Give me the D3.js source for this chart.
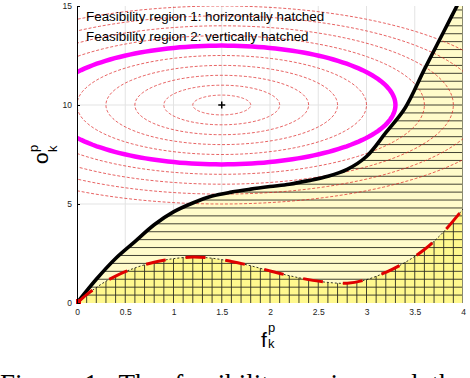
<!DOCTYPE html>
<html><head><meta charset="utf-8">
<script src="https://cdn.jsdelivr.net/npm/d3@7/dist/d3.min.js"></script>
<style>
html,body{margin:0;padding:0;background:#fff;overflow:hidden;}
svg{display:block;}
</style></head>
<body>
<script>
// ---- data ----
const xTickValues = [0, 0.5, 1, 1.5, 2, 2.5, 3, 3.5, 4];
const xTickLabels = ["0", "0.5", "1", "1.5", "2", "2.5", "3", "3.5", "4"];
const yTickValues = [0, 5, 10, 15];
const yTickLabels = ["0", "5", "10", "15"];

// upper boundary (black thick curve)
const upperF = [0, 0.2, 0.4, 0.6, 0.8, 1.0, 1.2, 1.4, 1.6, 1.8, 2.0, 2.2, 2.4, 2.6, 2.8, 3.0, 3.2, 3.4, 3.6, 3.8, 4.0];
const upperO = [0, 1.2, 2.25, 3.1, 3.95, 4.6, 5.05, 5.4, 5.6, 5.75, 5.88, 6.0, 6.18, 6.4, 6.75, 7.4, 8.6, 9.85, 11.8, 13.7, 15.6];

// lower boundary (red dashed curve)
const lowerF = [0, 0.1, 0.2, 0.3, 0.4, 0.5, 0.6, 0.7, 0.8, 0.9, 1.0, 1.2, 1.4, 1.6, 1.8, 2.0, 2.2, 2.4, 2.6, 2.8, 3.0, 3.2, 3.4, 3.6, 3.8, 4.0];
const lowerO = [0, 0.42, 0.78, 1.1, 1.36, 1.58, 1.77, 1.93, 2.06, 2.16, 2.24, 2.32, 2.26, 2.1, 1.88, 1.62, 1.38, 1.18, 1.04, 1.0, 1.18, 1.55, 2.05, 2.7, 3.6, 4.75];

// level curves (ellipses) around the centre
const centerF = 1.5, centerO = 10;
const contourA = [0.3, 0.6, 0.9, 1.2, 1.5, 1.8, 2.1, 2.4, 2.7, 3.0];
const contourB = [0.5, 1.0, 1.5, 2.0, 2.5, 3.0, 3.5, 4.0, 4.5, 5.0];
const highlightA = 1.8, highlightB = 3.0;

// hatching levels
const hLevels = d3.range(1, 38).map(k => +(k * 0.4).toFixed(2));
const vLevels = d3.range(1, 40).map(k => +(k * 0.1).toFixed(2));

const legendLines = ["Feasibility region 1: horizontally hatched", "Feasibility region 2: vertically hatched"];
const caption = "Figure 1: The feasibility region and the";

// ---- drawing ----
const W = 470, H = 378;
const x = d3.scaleLinear().domain([0, 4]).range([77, 463]);
const y = d3.scaleLinear().domain([0, 15]).range([303, 6]);

const svg = d3.select("body").append("svg").attr("width", W).attr("height", H);
const defs = svg.append("defs");
defs.append("clipPath").attr("id", "plotclip").append("rect")
  .attr("x", x(0)).attr("y", y(15)).attr("width", x(4) - x(0)).attr("height", y(0) - y(15));

const upper = upperF.map((f, i) => [f, upperO[i]]);
const lower = lowerF.map((f, i) => [f, lowerO[i]]);

const curveLine = d3.line().x(d => x(d[0])).y(d => y(d[1])).curve(d3.curveCatmullRom.alpha(0.5));
const area = d3.area().x(d => x(d[0])).y0(y(0)).y1(d => y(d[1])).curve(d3.curveCatmullRom.alpha(0.5));

defs.append("clipPath").attr("id", "reg1").append("path").attr("d", area(upper));
defs.append("clipPath").attr("id", "reg2").append("path").attr("d", area(lower));

const plot = svg.append("g").attr("clip-path", "url(#plotclip)");

// grid
plot.append("g").selectAll("line").data(xTickValues.filter(v => v > 0 && v < 4)).join("line")
  .attr("x1", d => x(d)).attr("x2", d => x(d)).attr("y1", y(0)).attr("y2", y(15))
  .attr("stroke", "#e3e3e3").attr("stroke-width", 1);
plot.append("g").selectAll("line").data(yTickValues.filter(v => v > 0 && v < 15)).join("line")
  .attr("x1", x(0)).attr("x2", x(4)).attr("y1", d => y(d)).attr("y2", d => y(d))
  .attr("stroke", "#e3e3e3").attr("stroke-width", 1);

// regions
plot.append("path").attr("d", area(upper)).attr("fill", "#fffbca");
plot.append("path").attr("d", area(lower)).attr("fill", "#fff88e");

// horizontal hatching (region 1)
plot.append("g").attr("clip-path", "url(#reg1)").selectAll("line").data(hLevels).join("line")
  .attr("x1", x(0)).attr("x2", x(4)).attr("y1", d => y(d)).attr("y2", d => y(d))
  .attr("stroke", "#2e2e22").attr("stroke-width", 0.9);
// vertical hatching (region 2)
plot.append("g").attr("clip-path", "url(#reg2)").selectAll("line").data(vLevels).join("line")
  .attr("x1", d => x(d)).attr("x2", d => x(d)).attr("y1", y(0)).attr("y2", y(15))
  .attr("stroke", "#2e2e22").attr("stroke-width", 0.9);

// right edge of region 1
plot.append("line").attr("x1", x(4) - 0.5).attr("x2", x(4) - 0.5).attr("y1", y(0)).attr("y2", y(15))
  .attr("stroke", "#8a8a70").attr("stroke-width", 1);

// contours
const ell = (a, b) => d3.line().x(d => x(d[0])).y(d => y(d[1]))(
  d3.range(0, 361, 2).map(t => [centerF + a * Math.cos(t * Math.PI / 180), centerO + b * Math.sin(t * Math.PI / 180)]));
plot.append("g").selectAll("path").data(contourA).join("path")
  .attr("d", (a, i) => ell(a, contourB[i]))
  .attr("fill", "none").attr("stroke", "#dd2020").attr("stroke-width", 0.7)
  .attr("stroke-dasharray", "3,1.8");
plot.append("path").attr("d", ell(highlightA, highlightB))
  .attr("fill", "none").attr("stroke", "#ff00ff").attr("stroke-width", 4.5);

// upper black curve
plot.append("path").attr("d", curveLine(upper)).attr("fill", "none")
  .attr("stroke", "#000").attr("stroke-width", 3.6);

// lower boundary: thin dotted line + red dashes
plot.append("path").attr("d", curveLine(lower)).attr("fill", "none")
  .attr("stroke", "#000").attr("stroke-width", 0.8).attr("stroke-dasharray", "2,2");
plot.append("path").attr("d", curveLine(lower)).attr("fill", "none")
  .attr("stroke", "#e00000").attr("stroke-width", 3).attr("stroke-dasharray", "20,20");

// origin marker
svg.append("rect").attr("x", x(0) - 1).attr("y", y(0) - 4).attr("width", 5).attr("height", 5).attr("fill", "#e00000");

// centre marker
svg.append("g").attr("transform", `translate(${x(centerF)},${y(centerO)})`)
  .call(g => {
    g.append("line").attr("x1", -3.5).attr("x2", 3.5).attr("stroke", "#000").attr("stroke-width", 1.5);
    g.append("line").attr("y1", -3.5).attr("y2", 3.5).attr("stroke", "#000").attr("stroke-width", 1.5);
  });

// axes
const yAxis = d3.axisLeft(y).tickValues(yTickValues).tickFormat((d, i) => yTickLabels[i]).tickSize(-3).tickPadding(5);
const gy = svg.append("g").attr("transform", `translate(${x(0)},0)`).call(yAxis);
gy.select(".domain").attr("stroke", "#000").attr("d", `M0.5,${y(15)}V${y(0)}`);
gy.selectAll(".tick line").attr("stroke", "#000");
gy.selectAll("text").attr("font-family", "Liberation Sans, Arial, sans-serif").attr("font-size", 8.5).attr("fill", "#222");

const xAxis = d3.axisBottom(x).tickValues(xTickValues).tickFormat((d, i) => xTickLabels[i]).tickSize(0).tickPadding(6);
const gx = svg.append("g").attr("transform", `translate(0,${y(0)})`).call(xAxis);
gx.select(".domain").remove();
gx.selectAll("text").attr("font-family", "Liberation Sans, Arial, sans-serif").attr("font-size", 8.5).attr("fill", "#222");

// legend text
svg.append("g").selectAll("text").data(legendLines).join("text")
  .attr("x", 86).attr("y", (d, i) => 21 + i * 19.5)
  .attr("font-family", "Liberation Sans, Arial, sans-serif").attr("font-size", 13.4).attr("fill", "#000")
  .text(d => d);

// axis labels
const lab = svg.append("g").attr("font-family", "Liberation Sans, Arial, sans-serif").attr("fill", "#000");
lab.append("text").attr("x", 261).attr("y", 347).attr("font-size", 21).text("f");
lab.append("text").attr("x", 268).attr("y", 332).attr("font-size", 13).text("p");
lab.append("text").attr("x", 268).attr("y", 348).attr("font-size", 13).text("k");
lab.append("text").attr("transform", "translate(48,164) rotate(-90)").attr("font-size", 21).text("o");
lab.append("text").attr("transform", "translate(37.5,152) rotate(-90)").attr("font-size", 13).text("p");
lab.append("text").attr("transform", "translate(57,152) rotate(-90)").attr("font-size", 13).text("k");

// caption (cut off at the bottom of the window, as in the reference)
svg.append("text").attr("x", 0).attr("y", 393)
  .attr("font-family", "Liberation Serif, Times New Roman, serif").attr("font-size", 27)
  .attr("word-spacing", 7).attr("fill", "#000").text(caption);
</script>
</body></html>
